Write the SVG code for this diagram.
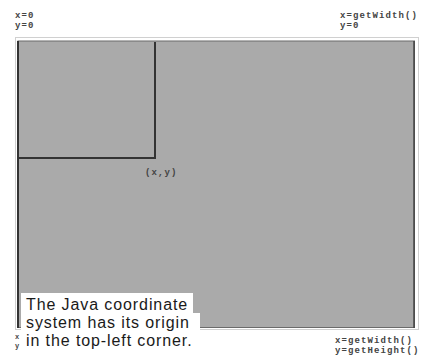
<svg xmlns="http://www.w3.org/2000/svg" width="430" height="358" viewBox="0 0 430 358">
<style>
.lbl{font-family:"Liberation Mono","DejaVu Sans Mono",monospace;font-size:9px;font-weight:bold;letter-spacing:1.1px;fill:#444}
.cap{font-family:"Liberation Sans",Arial,sans-serif;font-size:16px;letter-spacing:0.9px;fill:#1a1a1a}
</style>
<rect width="430" height="358" fill="#ffffff"/>
<g id="frame">
<rect x="15.5" y="37.5" width="403" height="292" fill="none" stroke="#d0d0d0" stroke-width="1"/>
<rect x="18" y="41" width="396.5" height="286.5" fill="#aaaaaa" stroke="#6a6a6a" stroke-width="1"/>
<line x1="18" y1="41" x2="18" y2="328" stroke="#333" stroke-width="2"/>
<line x1="414" y1="41" x2="414" y2="328" stroke="#444" stroke-width="1.5"/>
</g>
<g id="window">
<polyline points="155,42 155,158 18,158" fill="none" stroke="#333" stroke-width="2"/>
</g>
<g id="labels">
<text class="lbl" x="15" y="18">x=0</text>
<text class="lbl" x="15" y="28">y=0</text>
<text class="lbl" x="340" y="18">x=getWidth()</text>
<text class="lbl" x="340" y="28">y=0</text>
<text class="lbl" x="145" y="175">(x,y)</text>
<text class="lbl" x="335" y="343">x=getWidth()</text>
<text class="lbl" x="335" y="353">y=getHeight()</text>
<text class="lbl" x="15" y="339" style="font-size:7px;letter-spacing:0">x</text>
<text class="lbl" x="15" y="348" style="font-size:7px;letter-spacing:0">y</text>
</g>
<g id="caption">
<rect x="21" y="293" width="172" height="20" fill="#ffffff"/>
<rect x="21" y="313" width="179" height="18" fill="#ffffff"/>
<text class="cap" x="26" y="310">The Java coordinate</text>
<text class="cap" x="26" y="328">system has its origin</text>
<text class="cap" x="26" y="346">in the top-left corner.</text>
</g>
</svg>
